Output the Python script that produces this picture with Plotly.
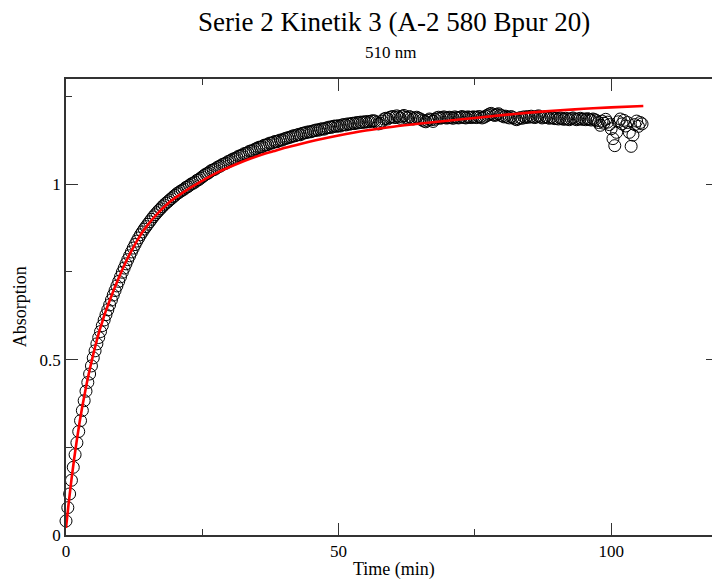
import plotly.graph_objects as go

absorbance = [
    0.040, 0.078, 0.117, 0.156, 0.193, 0.229, 0.263, 0.295, 0.326, 0.355, 0.383, 0.410, 0.435, 0.459, 0.482,
    0.505, 0.525, 0.545, 0.563, 0.580, 0.597, 0.613, 0.628, 0.642, 0.656, 0.670, 0.684, 0.697, 0.710, 0.723,
    0.736, 0.749, 0.761, 0.773, 0.785, 0.796, 0.807, 0.818, 0.828, 0.838, 0.847, 0.856, 0.864, 0.872, 0.879,
    0.886, 0.893, 0.900, 0.907, 0.913, 0.919, 0.925, 0.930, 0.936, 0.941, 0.946, 0.950, 0.955, 0.959, 0.964,
    0.968, 0.973, 0.976, 0.980, 0.983, 0.986, 0.991, 0.993, 0.997, 1.001, 1.003, 1.006, 1.011, 1.013, 1.017,
    1.021, 1.025, 1.029, 1.031, 1.035, 1.039, 1.041, 1.043, 1.047, 1.050, 1.052, 1.056, 1.058, 1.060, 1.064,
    1.066, 1.069, 1.072, 1.073, 1.076, 1.080, 1.081, 1.083, 1.087, 1.088, 1.090, 1.094, 1.095, 1.096, 1.100,
    1.102, 1.105, 1.106, 1.107, 1.111, 1.112, 1.113, 1.117, 1.117, 1.119, 1.122, 1.121, 1.124, 1.126, 1.126,
    1.129, 1.131, 1.132, 1.134, 1.135, 1.138, 1.138, 1.140, 1.142, 1.141, 1.145, 1.146, 1.147, 1.149, 1.149,
    1.150, 1.152, 1.153, 1.155, 1.154, 1.157, 1.158, 1.157, 1.160, 1.161, 1.163, 1.162, 1.165, 1.166, 1.165,
    1.167, 1.166, 1.169, 1.170, 1.169, 1.172, 1.171, 1.173, 1.174, 1.173, 1.176, 1.175, 1.177, 1.176, 1.178,
    1.177, 1.179, 1.178, 1.180, 1.181, 1.180, 1.176, 1.172, 1.174, 1.180, 1.186, 1.188, 1.186, 1.190, 1.192,
    1.193, 1.190, 1.195, 1.192, 1.188, 1.194, 1.196, 1.191, 1.189, 1.193, 1.190, 1.186, 1.189, 1.191, 1.188,
    1.186, 1.183, 1.180, 1.178, 1.182, 1.186, 1.184, 1.179, 1.185, 1.189, 1.191, 1.188, 1.190, 1.192, 1.189,
    1.189, 1.191, 1.190, 1.188, 1.192, 1.190, 1.189, 1.191, 1.193, 1.190, 1.189, 1.192, 1.191, 1.190, 1.192,
    1.191, 1.190, 1.193, 1.192, 1.189, 1.191, 1.194, 1.197, 1.200, 1.202, 1.198, 1.196, 1.199, 1.201, 1.197,
    1.195, 1.192, 1.194, 1.191, 1.189, 1.193, 1.190, 1.186, 1.184, 1.187, 1.190, 1.188, 1.192, 1.190, 1.193,
    1.191, 1.194, 1.192, 1.190, 1.193, 1.195, 1.192, 1.189, 1.191, 1.193, 1.190, 1.188, 1.191, 1.189, 1.187,
    1.188, 1.186, 1.189, 1.187, 1.185, 1.188, 1.186, 1.184, 1.187, 1.189, 1.186, 1.184, 1.186, 1.188, 1.185,
    1.186, 1.184, 1.187, 1.185, 1.183, 1.186, 1.184, 1.181, 1.176, 1.168, 1.180, 1.174, 1.185, 1.177, 1.170,
    1.158, 1.130, 1.110, 1.148, 1.178, 1.186, 1.172, 1.182, 1.166, 1.176, 1.148, 1.108, 1.140, 1.170, 1.180,
    1.165, 1.176, 1.172,
]
sample_interval_min = 1 / 3
time_min = [round(i * sample_interval_min, 4) for i in range(len(absorbance))]

# Fitted curve (red line)
fit_time = [0, 0.5, 1, 1.5, 2, 2.5, 3, 3.5, 4, 4.5, 5, 5.5, 6, 6.5, 7, 7.5, 8, 9, 10, 11, 12, 13, 14,
            15, 16, 17, 18, 19, 20, 22, 24, 26, 28, 30, 32, 34, 36, 38, 40, 43, 46, 50, 55, 60, 65,
            70, 75, 80, 85, 90, 95, 100, 105.9]
fit_abs = [0.020, 0.092, 0.158, 0.218, 0.272, 0.322, 0.367, 0.408, 0.447, 0.482, 0.515, 0.546, 0.575,
           0.600, 0.625, 0.647, 0.668, 0.708, 0.745, 0.779, 0.810, 0.838, 0.863, 0.884, 0.903, 0.920,
           0.935, 0.949, 0.961, 0.982, 1.001, 1.019, 1.035, 1.049, 1.062, 1.074, 1.085, 1.094, 1.103,
           1.115, 1.126, 1.139, 1.153, 1.164, 1.173, 1.181, 1.189, 1.197, 1.204, 1.210, 1.215, 1.219,
           1.223]

x_tickvals = [0, 50, 100]
y_tickvals = [0, 0.5, 1]
x_range = [0, 118.5]
y_range = [0, 1.3]

FONT = "Liberation Serif, Times New Roman, serif"
AXC = "#333333"

fig = go.Figure()
fig.add_trace(go.Scatter(
    x=time_min, y=absorbance, mode="markers",
    marker=dict(symbol="circle-open", size=12, color="black", line=dict(width=1, color="black")),
    showlegend=False, hoverinfo="skip", cliponaxis=False,
))
fig.add_trace(go.Scatter(
    x=fit_time, y=fit_abs, mode="lines", line=dict(color="#ff0000", width=2.6, shape="spline"),
    showlegend=False, hoverinfo="skip",
))
# empty trace that just carries the right-hand tick axis
fig.add_trace(go.Scatter(x=[], y=[], yaxis="y2", showlegend=False, hoverinfo="skip"))

fig.update_layout(
    width=712, height=580,
    margin=dict(l=66, r=0, t=79, b=45),
    paper_bgcolor="white", plot_bgcolor="white",
    font=dict(family=FONT, color="black"),
    xaxis=dict(range=x_range, tickvals=x_tickvals, ticktext=[str(v) for v in x_tickvals],
               showline=True, linecolor=AXC, linewidth=1.6, mirror="ticks",
               ticks="inside", ticklen=12, tickwidth=1.3, tickcolor=AXC,
               showgrid=False, zeroline=False,
               tickfont=dict(family=FONT, size=17, color="black"),
               minor=dict(dtick=25, ticks="inside", ticklen=6, tickcolor=AXC, tickwidth=1.2)),
    yaxis=dict(range=y_range, tickvals=y_tickvals, ticktext=["0", "0.5", "1"],
               showline=True, linecolor=AXC, linewidth=1.6, mirror=False,
               ticks="inside", ticklen=12, tickwidth=1.3, tickcolor=AXC,
               showgrid=False, zeroline=False,
               tickfont=dict(family=FONT, size=17, color="black"),
               minor=dict(dtick=0.25, ticks="inside", ticklen=6, tickcolor=AXC, tickwidth=1.2)),
    yaxis2=dict(range=y_range, overlaying="y", side="right", anchor="x",
                tickvals=y_tickvals, showticklabels=False, showline=False,
                ticks="inside", ticklen=6, tickwidth=1.3, tickcolor=AXC,
                showgrid=False, zeroline=False),
    annotations=[
        dict(text="Serie 2 Kinetik 3 (A-2 580 Bpur 20)", xref="paper", yref="paper",
             x=0.508, y=1.125, xanchor="center", yanchor="middle", showarrow=False,
             font=dict(family=FONT, size=27, color="black")),
        dict(text="510 nm", xref="paper", yref="paper", x=0.503, y=1.059,
             xanchor="center", yanchor="middle", showarrow=False,
             font=dict(family=FONT, size=17, color="black")),
        dict(text="Time (min)", xref="paper", yref="paper", x=0.507, y=-0.075,
             xanchor="center", yanchor="middle", showarrow=False,
             font=dict(family=FONT, size=18, color="black")),
        dict(text="Absorption", xref="paper", yref="paper", x=-0.071, y=0.5,
             xanchor="center", yanchor="middle", showarrow=False, textangle=-90,
             font=dict(family=FONT, size=18, color="black")),
    ],
)

# remove the default page margin so the figure sits at the window's top-left corner
fig.write_html("out.html", config={"displayModeBar": False},
               post_script="document.body.style.margin='0';document.body.style.overflow='hidden';")
